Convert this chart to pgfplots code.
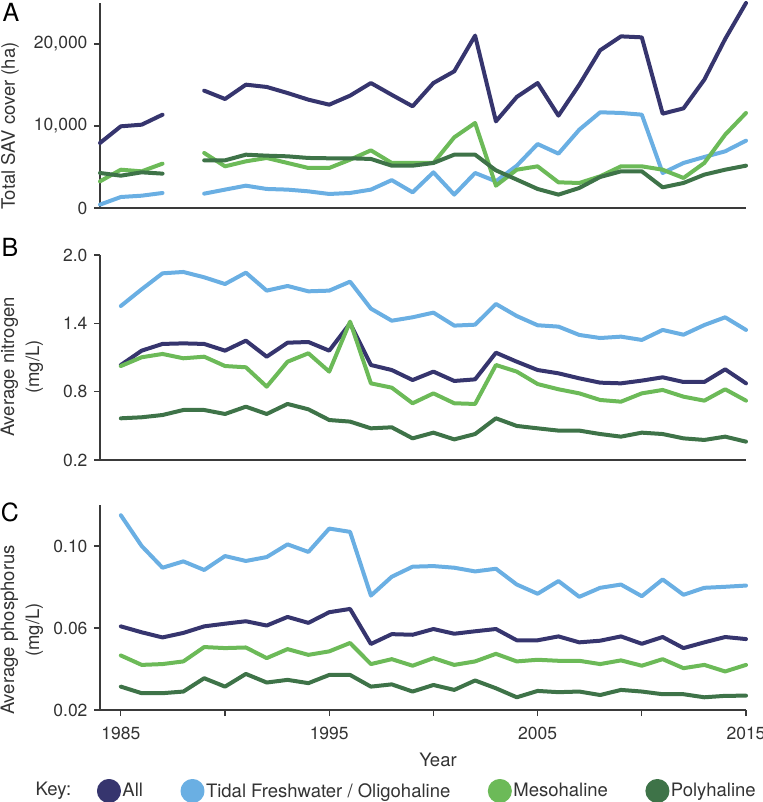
\documentclass[border=0pt]{standalone}
\usepackage{fontspec}
\setmainfont{TeX Gyre Heros}
\usepackage{pgfplots}
\pgfplotsset{compat=1.18}
\usepackage{pgfplotstable}
\definecolor{cAll}{HTML}{36356E}
\definecolor{cTidal}{HTML}{6AAFE3}
\definecolor{cMeso}{HTML}{6CBA58}
\definecolor{cPoly}{HTML}{3E7348}
\definecolor{textgray}{HTML}{333333}
\definecolor{axisgray}{HTML}{3A3A3A}

\pgfplotstableread{
year all tidal meso poly
1984 7930 410 3250 4270
1985 9960 1340 4670 3940
1986 10160 1500 4470 4350
1987 11380 1830 5410 4190
1988 nan nan nan nan
1989 14310 1750 6710 5810
1990 13290 2240 5080 5810
1991 15040 2720 5690 6500
1992 14760 2320 6100 6380
1993 14020 2240 5490 6300
1994 13210 2030 4880 6100
1995 12600 1710 4880 6060
1996 13700 1830 5890 6060
1997 15240 2240 7030 5980
1998 13800 3400 5490 5160
1999 12400 1910 5490 5160
2000 15240 4350 5490 5490
2001 16670 1630 8620 6500
2002 21020 4270 10370 6500
2003 10570 3250 2720 4590
2004 13540 5160 4670 3460
2005 15240 7800 5080 2320
2006 11260 6630 3130 1630
2007 15040 9550 3050 2440
2008 19230 11670 3860 3780
2009 20930 11590 5080 4470
2010 20810 11380 5080 4470
2011 11500 4270 4670 2520
2012 12150 5490 3660 3050
2013 15650 6220 5490 4070
2014 20610 6910 8940 4670
2015 25000 8210 11590 5160
}\sav

\pgfplotstableread{
year all tidal meso poly
1985 1.034 1.552 1.025 0.566
1986 1.160 1.699 1.102 0.575
1987 1.219 1.839 1.131 0.595
1988 1.224 1.851 1.093 0.639
1989 1.219 1.804 1.107 0.639
1990 1.160 1.745 1.025 0.604
1991 1.248 1.845 1.014 0.668
1992 1.107 1.687 0.844 0.604
1993 1.230 1.728 1.063 0.692
1994 1.236 1.681 1.137 0.645
1995 1.160 1.687 0.976 0.551
1996 1.400 1.766 1.415 0.537
1997 1.034 1.529 0.873 0.478
1998 0.990 1.423 0.835 0.487
1999 0.902 1.453 0.698 0.390
2000 0.976 1.494 0.785 0.440
2001 0.894 1.380 0.698 0.381
2002 0.908 1.388 0.692 0.428
2003 1.142 1.570 1.034 0.566
2004 1.063 1.464 0.976 0.499
2005 0.990 1.383 0.867 0.478
2006 0.961 1.371 0.821 0.458
2007 0.917 1.298 0.785 0.458
2008 0.879 1.271 0.727 0.428
2009 0.873 1.283 0.712 0.405
2010 0.897 1.254 0.785 0.440
2011 0.926 1.342 0.815 0.428
2012 0.885 1.300 0.756 0.390
2013 0.885 1.385 0.721 0.376
2014 0.996 1.453 0.821 0.405
2015 0.873 1.342 0.721 0.361
}\nitro

\pgfplotstableread{
year all tidal meso poly
1985 0.0608 0.1150 0.0466 0.0314
1986 0.0579 0.1000 0.0420 0.0282
1987 0.0554 0.0894 0.0424 0.0282
1988 0.0576 0.0925 0.0437 0.0290
1989 0.0608 0.0883 0.0507 0.0355
1990 0.0621 0.0951 0.0502 0.0314
1991 0.0633 0.0927 0.0505 0.0376
1992 0.0612 0.0946 0.0453 0.0334
1993 0.0654 0.1008 0.0497 0.0347
1994 0.0625 0.0971 0.0469 0.0331
1995 0.0677 0.1085 0.0486 0.0371
1996 0.0693 0.1069 0.0527 0.0371
1997 0.0522 0.0758 0.0424 0.0314
1998 0.0570 0.0850 0.0448 0.0325
1999 0.0567 0.0899 0.0416 0.0290
2000 0.0595 0.0902 0.0453 0.0322
2001 0.0572 0.0894 0.0420 0.0298
2002 0.0584 0.0876 0.0437 0.0344
2003 0.0595 0.0889 0.0474 0.0306
2004 0.0540 0.0812 0.0437 0.0262
2005 0.0540 0.0767 0.0445 0.0293
2006 0.0559 0.0829 0.0440 0.0287
2007 0.0530 0.0752 0.0440 0.0290
2008 0.0538 0.0796 0.0424 0.0273
2009 0.0559 0.0812 0.0442 0.0298
2010 0.0523 0.0755 0.0416 0.0290
2011 0.0556 0.0837 0.0448 0.0277
2012 0.0502 0.0762 0.0404 0.0277
2013 0.0530 0.0796 0.0420 0.0262
2014 0.0556 0.0801 0.0388 0.0269
2015 0.0546 0.0807 0.0420 0.0270
}\phos

\pgfplotsset{
  panel/.style={
    scale only axis, width=646pt, height=205pt,
    xmin=1984, xmax=2015,
    axis x line*=bottom, axis y line*=left,
    axis line style={color=axisgray, line width=1.2pt},
    tick style={color=axisgray, line width=1.2pt},
    major tick length=6pt, tick align=outside,
    ticklabel style={font=\fontsize{17.5}{17.5}\selectfont, text=textgray},
    yticklabel style={xshift=-3pt},
    xticklabel style={yshift=-8pt},
    /pgf/number format/assume math mode=true,
    clip=false,
    unbounded coords=jump,
    every axis plot/.append style={line width=4pt, line join=round, line cap=round},
  }
}

\begin{document}
\begin{tikzpicture}
\useasboundingbox (0pt,0pt) rectangle (762pt,802pt);

% Panel A
\begin{axis}[panel, at={(100pt,594pt)}, anchor=south west,
  ymin=0, ymax=25000, xtick=\empty,
  ytick={0,10000,20000}, yticklabels={0,{10,000},{20,000}}]
  \addplot[cAll] table[x=year, y=all] {\sav};
  \addplot[cTidal] table[x=year, y=tidal] {\sav};
  \addplot[cMeso] table[x=year, y=meso] {\sav};
  \addplot[cPoly] table[x=year, y=poly] {\sav};
\end{axis}

% Panel B
\begin{axis}[panel, at={(100pt,342pt)}, anchor=south west,
  ymin=0.2, ymax=2.0, xtick=\empty,
  ytick={0.2,0.8,1.4,2.0}, yticklabels={0.2,0.8,1.4,2.0}]
  \addplot[cAll] table[x=year, y=all] {\nitro};
  \addplot[cTidal] table[x=year, y=tidal] {\nitro};
  \addplot[cMeso] table[x=year, y=meso] {\nitro};
  \addplot[cPoly] table[x=year, y=poly] {\nitro};
\end{axis}

% Panel C
\begin{axis}[panel, at={(100pt,92pt)}, anchor=south west,
  ymin=0.02, ymax=0.12,
  ytick={0.02,0.06,0.10}, yticklabels={0.02,0.06,0.10},
  xtick={1985,1990,1995,2000,2005,2010,2015},
  xticklabels={1985,,1995,,2005,,2015},
  legend columns=4,
  legend image code/.code={\fill[#1] (0pt,0pt) circle (10pt);},
  legend style={at={(-0.005,-0.395)}, anchor=west, draw=none, fill=none,
    inner sep=0pt, font=\fontsize{18.5}{18.5}\selectfont, text=textgray,
    nodes={inner sep=1.5pt},
    /tikz/every even column/.append style={column sep=36pt}}]
  \addplot[cAll] table[x=year, y=all] {\phos};
  \addlegendentry{All}
  \addplot[cTidal] table[x=year, y=tidal] {\phos};
  \addlegendentry{Tidal Freshwater / Oligohaline}
  \addplot[cMeso] table[x=year, y=meso] {\phos};
  \addlegendentry{Mesohaline}
  \addplot[cPoly] table[x=year, y=poly] {\phos};
  \addlegendentry{Polyhaline}
\end{axis}

% labels
\node[font=\fontsize{25}{25}\selectfont, text=black] at (11pt,790pt) {A};
\node[font=\fontsize{25}{25}\selectfont, text=black] at (10pt,555pt) {B};
\node[font=\fontsize{25}{25}\selectfont, text=black] at (10pt,290pt) {C};

\node[rotate=90, font=\fontsize{18.5}{18.5}\selectfont, text=textgray] at (10pt,676pt) {Total SAV cover (ha)};
\node[rotate=90, align=center, font=\fontsize{18.5}{25}\selectfont, text=textgray] at (22pt,435pt) {Average nitrogen\\(mg/L)};
\node[rotate=90, align=center, font=\fontsize{18.5}{25}\selectfont, text=textgray] at (22pt,172pt) {Average phosphorus\\(mg/L)};

\node[font=\fontsize{18.5}{18.5}\selectfont, text=textgray] at (438pt,42pt) {Year};
\node[font=\fontsize{18.5}{18.5}\selectfont, text=textgray] at (53.5pt,11pt) {Key:};
\end{tikzpicture}
\end{document}
